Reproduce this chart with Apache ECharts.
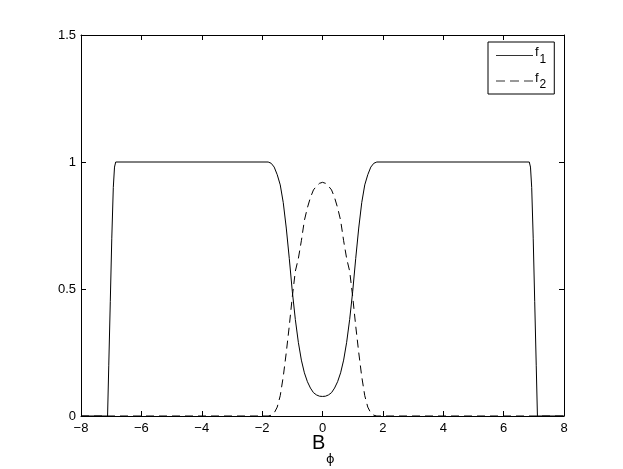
<!DOCTYPE html>
<html>
<head>
<meta charset="utf-8">
<script src="https://cdn.jsdelivr.net/npm/echarts@6/dist/echarts.min.js"></script>
<style>
	html, body { margin: 0; padding: 0; background: #fff; }
	#chart { width: 623px; height: 469px; }
</style>
</head>
<body>
<div id="chart"></div>
<script>
// x positions and values
var xF1 = [-8, -7.12, -7.08, -7.03, -6.98, -6.93, -6.89, -6.85,
	-1.8, -1.7, -1.6, -1.5, -1.4, -1.3, -1.2, -1.1, -1.0, -0.9, -0.8, -0.7, -0.6, -0.5, -0.4, -0.3, -0.2, -0.1,
	0, 0.1, 0.2, 0.3, 0.4, 0.5, 0.6, 0.7, 0.8, 0.9, 1.0, 1.1, 1.2, 1.3, 1.4, 1.5, 1.6, 1.7, 1.8,
	6.85, 6.89, 6.93, 6.98, 7.03, 7.08, 7.12, 8];
var yF1 = [0, 0, 0.2, 0.45, 0.7, 0.9, 0.98, 1.0,
	1.0, 0.995, 0.98, 0.95, 0.91, 0.84, 0.74, 0.62, 0.49, 0.38, 0.29, 0.22, 0.17, 0.135, 0.11, 0.092, 0.083, 0.078,
	0.077, 0.078, 0.083, 0.092, 0.11, 0.135, 0.17, 0.22, 0.29, 0.38, 0.49, 0.62, 0.74, 0.84, 0.91, 0.95, 0.98, 0.995, 1.0,
	1.0, 0.98, 0.9, 0.7, 0.45, 0.2, 0, 0];

var xF2 = [-8, -2.0, -1.8, -1.7, -1.6, -1.5, -1.4, -1.3, -1.2, -1.1, -1.0, -0.9, -0.8, -0.7, -0.6, -0.5, -0.4, -0.3, -0.2, -0.1,
	0, 0.1, 0.2, 0.3, 0.4, 0.5, 0.6, 0.7, 0.8, 0.9, 1.0, 1.1, 1.2, 1.3, 1.4, 1.5, 1.6, 1.7, 1.8, 2.0, 8];
var yF2 = [0, 0, 0, 0.003, 0.012, 0.035, 0.08, 0.155, 0.25, 0.355, 0.47, 0.57, 0.62, 0.69, 0.77, 0.82, 0.86, 0.89, 0.905, 0.916,
	0.92, 0.916, 0.905, 0.89, 0.86, 0.82, 0.77, 0.69, 0.62, 0.57, 0.47, 0.355, 0.25, 0.155, 0.08, 0.035, 0.012, 0.003, 0, 0, 0];

var seriesNames = ['f1', 'f2'];

function pairs(xs, ys) {
	var out = [];
	for (var i = 0; i < xs.length; i++) {
		out.push([xs[i], ys[i]]);
	}
	return out;
}

var chart = echarts.init(document.getElementById('chart'));
var font = 'Liberation Sans';
var axisCommon = {
	type: 'value',
	axisLine: { show: true, onZero: false, lineStyle: { color: '#000', width: 1 } },
	axisTick: { show: true, inside: true, length: 5, lineStyle: { color: '#000' } },
	splitLine: { show: false }
};

// legend keys: plain line and dashed line
var solidIcon = 'path://M0,0h37v1h-37z';
var dashIcon = 'path://M0,0h9v1h-9z M14,0h9v1h-9z M28,0h9v1h-9z';

var option = {
	backgroundColor: '#fff',
	animation: false,
	grid: { left: 81, right: 59, top: 35, bottom: 53 },
	xAxis: [
		Object.assign({}, axisCommon, {
			position: 'bottom', min: -8, max: 8, interval: 2,
			axisLabel: { color: '#000', fontFamily: font, fontSize: 13, margin: 6,
				formatter: function (v) { return String(v).replace('-', '\u2212'); } }
		}),
		Object.assign({}, axisCommon, {
			position: 'top', min: -8, max: 8, interval: 2,
			axisLabel: { show: false }
		})
	],
	yAxis: [
		Object.assign({}, axisCommon, {
			position: 'left', min: 0, max: 1.5, interval: 0.5,
			axisLabel: { color: '#000', fontFamily: font, fontSize: 13, margin: 5 }
		}),
		Object.assign({}, axisCommon, {
			position: 'right', min: 0, max: 1.5, interval: 0.5,
			axisLabel: { show: false }
		})
	],
	legend: {
		orient: 'vertical',
		left: 488,
		top: 42,
		padding: [4, 8, 3, 8],
		itemWidth: 37,
		itemHeight: 1,
		itemGap: 6,
		borderColor: '#000',
		borderWidth: 1,
		backgroundColor: '#fff',
		data: [
			{ name: seriesNames[0], icon: solidIcon },
			{ name: seriesNames[1], icon: dashIcon }
		],
		itemStyle: { color: '#333', borderWidth: 0 },
		formatter: function (name) { return '{n|f}{s|' + name.slice(1) + '}'; },
		textStyle: {
			color: '#000',
			fontFamily: font,
			padding: [0, 0, 0, -3],
			rich: {
				n: { fontSize: 13, fontFamily: font, color: '#000', padding: [0, 0, 6, 0] },
				s: { fontSize: 12, fontFamily: font, color: '#000', padding: [8, 0, 0, 1] }
			}
		}
	},
	graphic: [
		{ type: 'text', left: 312, top: 433, style: { text: 'B', font: '20px "Liberation Sans"', fill: '#000' } },
		{ type: 'text', left: 326, top: 453, style: { text: '\u03d5', font: '13px "DejaVu Sans"', fill: '#000' } }
	],
	series: [
		{
			name: seriesNames[0],
			type: 'line',
			data: pairs(xF1, yF1),
			symbol: 'none',
			lineStyle: { color: '#000', width: 1 },
			itemStyle: { color: '#000' }
		},
		{
			name: seriesNames[1],
			type: 'line',
			data: pairs(xF2, yF2),
			symbol: 'none',
			lineStyle: { color: '#000', width: 1, type: [8, 5] },
			itemStyle: { color: '#000' }
		}
	]
};
chart.setOption(option);
</script>
</body>
</html>
